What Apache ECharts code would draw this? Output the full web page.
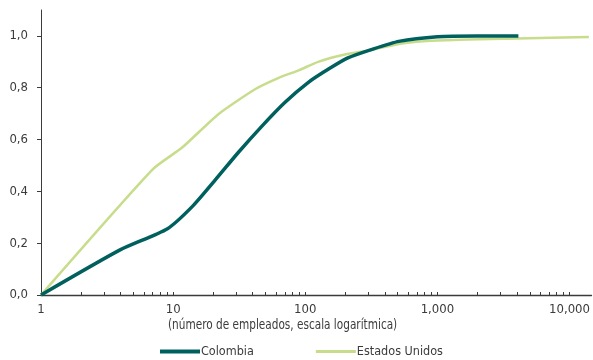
<!DOCTYPE html>
<html>
<head>
<meta charset="utf-8">
<script src="https://cdn.jsdelivr.net/npm/echarts@6/dist/echarts.min.js"></script>
<style>
  html, body { margin: 0; padding: 0; background: #fff; }
  #chart { width: 593px; height: 360px; }
</style>
</head>
<body>
<div id="chart"></div>
<script>
// Cumulative share of firms by size (number of employees, log scale)
const colombiaSize  = [1, 4, 9, 14, 21, 31, 47, 70, 105, 150, 210, 320, 510, 1000, 2000, 4100];
const colombiaShare = [0, 0.175, 0.255, 0.342, 0.446, 0.549, 0.652, 0.743, 0.820, 0.872, 0.915, 0.948, 0.979, 0.997, 1.0, 1.0];

const usSize  = [1, 7, 11.7, 22, 42, 63, 90, 125, 200, 320, 510, 1000, 4000, 14000];
const usShare = [0, 0.485, 0.569, 0.698, 0.795, 0.838, 0.868, 0.900, 0.928, 0.946, 0.969, 0.982, 0.990, 0.996];

const xLabelValues = [1, 10, 100, 1000, 10000];
const yLabelValues = [0, 0.2, 0.4, 0.6, 0.8, 1.0];

const seriesNames = ['Colombia', 'Estados Unidos'];
const xTitle = '(número de empleados, escala logarítmica)';

// minor ticks at 2..9 within each decade, plus decade marks
const xTickValues = [];
for (let d = 1; d <= 1000; d *= 10) {
  for (let k = 2; k <= 10; k++) xTickValues.push(k * d);
}

const zip = (xs, ys) => xs.map((x, i) => [x, ys[i]]);

const FONT = '"DejaVu Sans Condensed", "Liberation Sans Narrow", sans-serif';
const TEXT = '#3b3b3b';
const AXIS = '#3b3b3b';
const COLOMBIA = '#00605e';
const USA = '#c8dd8c';

const chart = echarts.init(document.getElementById('chart'), null, { renderer: 'canvas' });
chart.setOption({
  animation: false,
  backgroundColor: '#ffffff',
  textStyle: { fontFamily: FONT, color: TEXT },
  grid: { left: 41, right: 0, top: 10, bottom: 65, containLabel: false },
  xAxis: {
    type: 'log',
    logBase: 10,
    min: 1,
    max: 14660,
    axisLine: { show: true, lineStyle: { color: AXIS, width: 1.3 } },
    axisTick: { show: true, inside: true, length: 3, customValues: xTickValues,
                lineStyle: { color: AXIS, width: 1 } },
    axisLabel: {
      customValues: xLabelValues,
      fontFamily: FONT, fontSize: 13, color: TEXT, margin: 8,
      formatter: v => Number(v).toLocaleString('en-US')
    },
    splitLine: { show: false },
    minorTick: { show: false }
  },
  yAxis: {
    type: 'value',
    min: 0,
    max: 1.1,
    axisLine: { show: true, lineStyle: { color: AXIS, width: 1 } },
    axisTick: { show: true, inside: false, length: 4, customValues: yLabelValues,
                lineStyle: { color: AXIS, width: 1 } },
    axisLabel: {
      customValues: yLabelValues,
      fontFamily: FONT, fontSize: 13, color: TEXT, margin: 13,
      formatter: v => Number(v).toFixed(1).replace('.', ',')
    },
    splitLine: { show: false }
  },
  legend: {
    left: 160,
    top: 345,
    itemWidth: 40,
    itemHeight: 4,
    itemGap: 62,
    padding: 0,
    textStyle: { fontFamily: FONT, fontSize: 12.5, color: TEXT, padding: [0, 0, 0, -4] },
    data: [
      { name: seriesNames[0], icon: 'path://M0,0H40V4H0Z' },
      { name: seriesNames[1], icon: 'path://M0,0H40V3H0Z' }
    ]
  },
  graphic: [{
    type: 'text',
    x: 168,
    y: 318,
    scaleX: 0.835,
    style: { text: xTitle, font: '14px ' + FONT, fill: TEXT }
  }],
  series: [
    {
      name: seriesNames[1],
      type: 'line',
      data: zip(usSize, usShare),
      symbol: 'none',
      smooth: 0.2,
      lineStyle: { color: USA, width: 2.5 },
      itemStyle: { color: USA },
      z: 2
    },
    {
      name: seriesNames[0],
      type: 'line',
      data: zip(colombiaSize, colombiaShare),
      symbol: 'none',
      smooth: 0.2,
      lineStyle: { color: COLOMBIA, width: 3.5 },
      itemStyle: { color: COLOMBIA },
      z: 3
    }
  ]
});
</script>
</body>
</html>
